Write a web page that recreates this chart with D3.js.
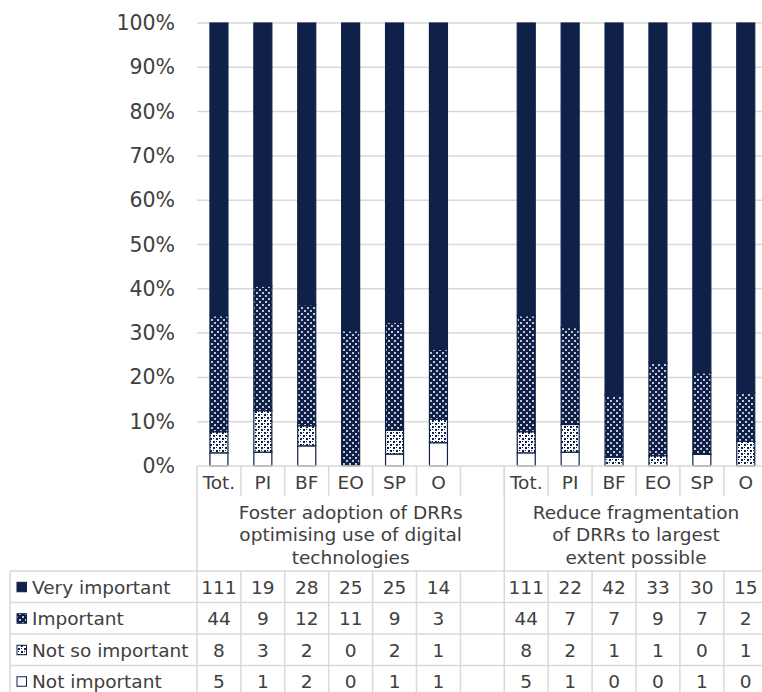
<!DOCTYPE html>
<html>
<head>
<meta charset="utf-8">
<script src="https://cdn.jsdelivr.net/npm/d3@7"></script>
<style>
  html, body { margin: 0; padding: 0; background: #fff; }
  svg { display: block; font-family: "DejaVu Sans", Verdana, sans-serif; }
</style>
</head>
<body>
<svg id="chart" width="762" height="692"></svg>
<script>
// ---------- data ----------
const categories = ["Tot.", "PI", "BF", "EO", "SP", "O"];
const groupLabels = [
  ["Foster adoption of DRRs", "optimising use of digital", "technologies"],
  ["Reduce fragmentation", "of DRRs to largest", "extent possible"]
];
const seriesNames = ["Very important", "Important", "Not so important", "Not important"];
const veryImportant1 = [111, 19, 28, 25, 25, 14];
const veryImportant2 = [111, 22, 42, 33, 30, 15];
const important1 = [44, 9, 12, 11, 9, 3];
const important2 = [44, 7, 7, 9, 7, 2];
const notSoImportant1 = [8, 3, 2, 0, 2, 1];
const notSoImportant2 = [8, 2, 1, 1, 0, 1];
const notImportant1 = [5, 1, 2, 0, 1, 1];
const notImportant2 = [5, 1, 0, 0, 1, 0];
const yTicks = [0, 0.1, 0.2, 0.3, 0.4, 0.5, 0.6, 0.7, 0.8, 0.9, 1.0];

// ---------- build slots (group 1: 6 cats + blank, group 2: 6 cats) ----------
const slots = [];
categories.forEach((c, i) => slots.push({ id: "g1-" + i, cat: c, group: 0,
  "Very important": veryImportant1[i], "Important": important1[i],
  "Not so important": notSoImportant1[i], "Not important": notImportant1[i] }));
slots.push({ id: "g1-blank", cat: "", group: 0, blank: true });
categories.forEach((c, i) => slots.push({ id: "g2-" + i, cat: c, group: 1,
  "Very important": veryImportant2[i], "Important": important2[i],
  "Not so important": notSoImportant2[i], "Not important": notImportant2[i] }));

const NAVY = "#0f2149";
const GRID = "#d9d9d9";
const TEXT = "#404040";

const svg = d3.select("#chart");
const plotLeft = 197, colW = 43.9, plotTop = 23, plotBottom = 466;
const plotRight = plotLeft + colW * slots.length;

const x = d3.scaleBand().domain(slots.map(d => d.id))
  .range([plotLeft, plotRight]).paddingInner(0.59).paddingOuter(0.295);
const y = d3.scaleLinear().domain([0, 1]).range([plotBottom, plotTop]);

// patterns
const defs = svg.append("defs");
const pImp = defs.append("pattern").attr("id", "pImp").attr("patternUnits", "userSpaceOnUse")
  .attr("width", 6).attr("height", 6);
pImp.append("rect").attr("width", 6).attr("height", 6).attr("fill", NAVY);
pImp.append("rect").attr("x", 1).attr("y", 1.5).attr("width", 2).attr("height", 1).attr("fill", "#fff");
pImp.append("rect").attr("x", 4).attr("y", 4.5).attr("width", 2).attr("height", 1).attr("fill", "#fff");
pImp.append("rect").attr("x", 1.5).attr("y", 1).attr("width", 1).attr("height", 2).attr("fill", "#fff");
pImp.append("rect").attr("x", 4.5).attr("y", 4).attr("width", 1).attr("height", 2).attr("fill", "#fff");

const pNso = defs.append("pattern").attr("id", "pNso").attr("patternUnits", "userSpaceOnUse")
  .attr("width", 6).attr("height", 6);
pNso.append("rect").attr("width", 6).attr("height", 6).attr("fill", "#fff");
pNso.append("rect").attr("x", 0).attr("y", 0).attr("width", 2).attr("height", 2).attr("fill", NAVY);
pNso.append("rect").attr("x", 3).attr("y", 3).attr("width", 2).attr("height", 2).attr("fill", NAVY);
pNso.append("rect").attr("x", 3).attr("y", 0).attr("width", 1).attr("height", 1).attr("fill", NAVY);
pNso.append("rect").attr("x", 0).attr("y", 3).attr("width", 1).attr("height", 1).attr("fill", NAVY);

const fills = {
  "Very important": NAVY,
  "Important": "url(#pImp)",
  "Not so important": "url(#pNso)",
  "Not important": "#fff"
};

// gridlines
svg.append("g").selectAll("line").data(yTicks.slice(1)).join("line")
  .attr("x1", plotLeft).attr("x2", plotRight)
  .attr("y1", d => y(d)).attr("y2", d => y(d))
  .attr("stroke", GRID).attr("stroke-width", 1.5);

// y axis
const yAxis = svg.append("g").attr("transform", `translate(${plotLeft},0)`)
  .call(d3.axisLeft(y).tickValues(yTicks).tickFormat(d3.format(".0%")).tickSize(0).tickPadding(22));
yAxis.select(".domain").remove();
yAxis.selectAll("text").attr("fill", TEXT).style("font-size", "20.5px")
  .style("font-family", "DejaVu Sans, Verdana, sans-serif");

// stacked bars
const stackOrder = ["Not important", "Not so important", "Important", "Very important"];
const dataSlots = slots.filter(d => !d.blank);
const stacked = d3.stack().keys(stackOrder).offset(d3.stackOffsetExpand)(dataSlots);
svg.append("g").selectAll("g").data(stacked).join("g")
  .attr("fill", s => fills[s.key])
  .selectAll("rect").data(s => s.filter(d => d[1] - d[0] > 0)).join("rect")
  .attr("x", d => x(d.data.id))
  .attr("width", x.bandwidth())
  .attr("y", d => y(d[1]))
  .attr("height", d => y(d[0]) - y(d[1]))
  .attr("stroke", NAVY).attr("stroke-width", 1.2);

// ---------- data table ----------
const tbl = svg.append("g");
const catRowBottom = 496, groupRowBottom = 571;
const rowH = 31.5;
const tableLeft = 10;
const lineAttr = sel => sel.attr("stroke", GRID).attr("stroke-width", 1.5);

// axis line / top of table
tbl.append("line").attr("x1", plotLeft).attr("x2", plotRight).attr("y1", plotBottom).attr("y2", plotBottom).call(lineAttr);
// left border of category area
tbl.append("line").attr("x1", plotLeft).attr("x2", plotLeft).attr("y1", plotBottom).attr("y2", 692).call(lineAttr);
// category cell borders
const edges = slots.map((d, i) => plotLeft + colW * (i + 1));
tbl.append("g").selectAll("line").data(edges).join("line")
  .attr("x1", d => d).attr("x2", d => d).attr("y1", plotBottom).attr("y2", catRowBottom).call(lineAttr);
// group borders through group label row
const groupEdge = plotLeft + colW * 7;
tbl.append("line").attr("x1", groupEdge).attr("x2", groupEdge).attr("y1", plotBottom).attr("y2", groupRowBottom).call(lineAttr);
tbl.append("line").attr("x1", plotRight).attr("x2", plotRight).attr("y1", plotBottom).attr("y2", groupRowBottom).call(lineAttr);

// category labels
tbl.append("g").selectAll("text").data(slots).join("text")
  .attr("x", d => x(d.id) + x.bandwidth() / 2).attr("y", (plotBottom + catRowBottom) / 2 + 1)
  .attr("text-anchor", "middle").attr("dominant-baseline", "central")
  .attr("fill", TEXT).style("font-size", "18.5px").text(d => d.cat);

// group labels
const groupCenters = [(plotLeft + groupEdge) / 2, (groupEdge + plotRight) / 2];
groupLabels.forEach((lines, gi) => {
  tbl.append("text").attr("text-anchor", "middle").attr("fill", TEXT).style("font-size", "18.5px")
    .selectAll("tspan").data(lines).join("tspan")
    .attr("x", groupCenters[gi]).attr("y", (d, i) => 512 + i * 22.5)
    .attr("dominant-baseline", "central").text(d => d);
});

// data rows
const rowTops = seriesNames.map((s, i) => groupRowBottom + i * rowH);
tbl.append("g").selectAll("line").data(rowTops.concat([groupRowBottom + 4 * rowH])).join("line")
  .attr("x1", tableLeft).attr("x2", plotRight).attr("y1", d => d).attr("y2", d => d).call(lineAttr);
tbl.append("line").attr("x1", tableLeft).attr("x2", tableLeft).attr("y1", groupRowBottom).attr("y2", 692).call(lineAttr);
tbl.append("g").selectAll("line").data(edges).join("line")
  .attr("x1", d => d).attr("x2", d => d).attr("y1", groupRowBottom).attr("y2", 692).call(lineAttr);

seriesNames.forEach((s, ri) => {
  const cy = rowTops[ri] + rowH / 2 + 0.5;
  // legend key
  tbl.append("rect").attr("x", 17).attr("y", cy - 5).attr("width", 9.5).attr("height", 9.5)
    .attr("fill", fills[s]).attr("stroke", NAVY).attr("stroke-width", 1);
  tbl.append("text").attr("x", 32).attr("y", cy).attr("dominant-baseline", "central")
    .attr("fill", TEXT).style("font-size", "18.5px").text(s);
  tbl.append("g").selectAll("text").data(dataSlots).join("text")
    .attr("x", d => x(d.id) + x.bandwidth() / 2).attr("y", cy)
    .attr("text-anchor", "middle").attr("dominant-baseline", "central")
    .attr("fill", TEXT).style("font-size", "18.5px").text(d => d[s]);
});
</script>
</body>
</html>
